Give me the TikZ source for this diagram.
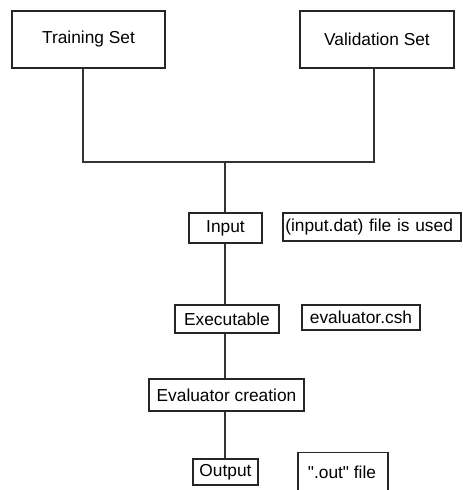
\documentclass[tikz,border=0pt]{standalone}
\usepackage{fontspec}
\setmainfont{Liberation Sans}[Ligatures=TeXOff]
\begin{document}
\begin{tikzpicture}[x=0.75pt,y=-0.75pt,
  box/.style={draw=black!85, line width=1.1pt, inner sep=0pt, align=center,
    font=\fontsize{13}{15}\selectfont},
  conn/.style={draw=black!80, line width=1.1pt}]
\clip (0,0) rectangle (462,490);
\fill[white] (0,0) rectangle (462,490);
% main boxes (sizes in px * 0.75pt)
\node[box, minimum width=114.75pt, minimum height=42.75pt] (train) at (88.5,39.5) {Training Set};
\node[box, minimum width=115.5pt, minimum height=42.75pt] (valid) at (377,39.5) {Validation Set};
\node[box, minimum width=54.75pt, minimum height=22.5pt] (input) at (225.5,228) {Input};
\node[box, minimum width=78pt, minimum height=21pt] (exec) at (227,319) {Executable};
\node[box, minimum width=116.25pt, minimum height=24pt] (evalc) at (226.5,395) {Evaluator creation};
\node[box, minimum width=48.75pt, minimum height=19.5pt] (output) at (225.5,472) {Output};
% side notes
\node[box, minimum width=133.5pt, minimum height=21pt, text width=130pt, align=left] (inputdat) at (372,227) {(input.dat) file is used};
\node[box, minimum width=88.5pt, minimum height=18.75pt] (csh) at (361,317.5) {evaluator.csh};
\node[box, minimum width=67.5pt, minimum height=30pt, anchor=north] (outfile) at (343,452) {};
\node[font=\fontsize{13}{15}\selectfont, inner sep=0pt] (outtext) at (342,472) {".out" file};
% junction
\coordinate (jl) at (83,162);
\coordinate (jr) at (374,162);
\coordinate (jm) at (225,162);
\draw[conn] (jl |- train.south) -- (jl) -- (jr) -- (jr |- valid.south);
\draw[conn] (jm) -- (jm |- input.north);
\draw[conn] (jm |- input.south) -- (jm |- exec.north);
\draw[conn] (jm |- exec.south) -- (jm |- evalc.north);
\draw[conn] (jm |- evalc.south) -- (jm |- output.north);
\end{tikzpicture}
\end{document}
